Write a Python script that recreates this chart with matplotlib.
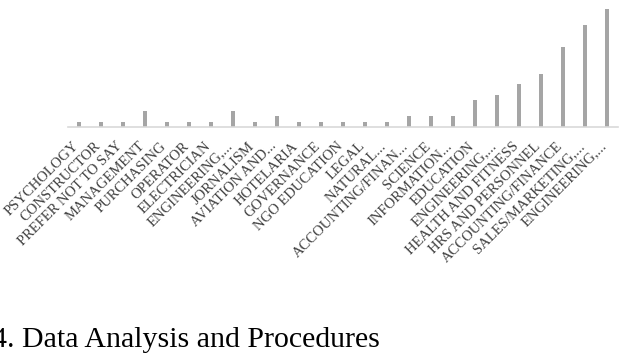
import matplotlib

matplotlib.use("Agg")
import matplotlib.pyplot as plt
from matplotlib.transforms import ScaledTranslation

categories = [
    "PSYCHOLOGY", "CONSTRUCTOR", "PREFER NOT TO SAY", "MANAGEMENT", "PURCHASING",
    "OPERATOR", "ELECTRICIAN", "ENGINEERING,...", "JORNALISM", "AVIATION AND...",
    "HOTELARIA", "GOVERNANCE", "NGO EDUCATION", "LEGAL", "NATURAL...",
    "ACCOUNTING/FINAN...", "SCIENCE", "INFORMATION...", "EDUCATION", "ENGINEERING,...",
    "HEALTH AND FITNESS", "HRS AND PERSONNEL", "ACCOUNTING/FINANCE", "SALES/MARKETING,...",
    "ENGINEERING,...",
]
counts = [1, 1, 1, 3, 1, 1, 1, 3, 1, 2, 1, 1, 1, 1, 1, 2, 2, 2, 5, 6, 8, 10, 15, 19, 22]

W, H = 627, 353
SERIF = ["Liberation Serif", "DejaVu Serif"]

fig = plt.figure(figsize=(W / 100, H / 100), dpi=100, facecolor="white")
ax = fig.add_axes([68 / W, 1 - 127 / H, 550 / W, 123 / H])
x = range(len(counts))
ax.bar(x, counts, width=0.2, color="#a5a5a5", linewidth=0)
ax.set_xlim(-0.5, len(counts) - 0.5)
ax.set_ylim(0, 23)
ax.set_yticks([])
for side in ("top", "right", "left"):
    ax.spines[side].set_visible(False)
ax.spines["bottom"].set_color("#d9d9d9")
ax.spines["bottom"].set_linewidth(1.2)
ax.set_xticks(list(x))
ax.set_xticklabels(categories, rotation=45, ha="right", va="top",
                   rotation_mode="anchor", family=SERIF, fontsize=10.5, color="#404040")
ax.tick_params(axis="x", length=0, pad=9)
shift = ScaledTranslation(-5 / 72, 0, fig.dpi_scale_trans)
for lab in ax.get_xticklabels():
    lab.set_transform(lab.get_transform() + shift)

fig.text(-8 / W, 1 - 347 / H, "4. Data Analysis and Procedures", family=SERIF,
         fontsize=21.5, color="black", va="baseline", ha="left")

fig.savefig("out.png", dpi=100, facecolor="white")
